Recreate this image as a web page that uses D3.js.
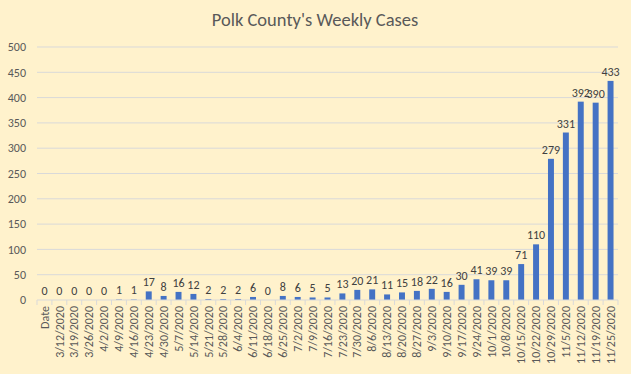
<!DOCTYPE html>
<html>
<head>
<meta charset="utf-8">
<script src="https://cdn.jsdelivr.net/npm/d3@7"></script>
<style>
  body { margin: 0; background: #FFF2CC; }
  svg { display: block; }
</style>
</head>
<body>
<svg id="chart"></svg>
<script>
// weekly cases, Polk County
const weeks = ["Date", "3/12/2020", "3/19/2020", "3/26/2020", "4/2/2020", "4/9/2020", "4/16/2020",
  "4/23/2020", "4/30/2020", "5/7/2020", "5/14/2020", "5/21/2020", "5/28/2020", "6/4/2020",
  "6/11/2020", "6/18/2020", "6/25/2020", "7/2/2020", "7/9/2020", "7/16/2020", "7/23/2020",
  "7/30/2020", "8/6/2020", "8/13/2020", "8/20/2020", "8/27/2020", "9/3/2020", "9/10/2020",
  "9/17/2020", "9/24/2020", "10/1/2020", "10/8/2020", "10/15/2020", "10/22/2020", "10/29/2020",
  "11/5/2020", "11/12/2020", "11/19/2020", "11/25/2020"];
const cases = [0, 0, 0, 0, 0, 1, 1,
  17, 8, 16, 12, 2, 2, 2,
  6, 0, 8, 6, 5, 5, 13,
  20, 21, 11, 15, 18, 22, 16,
  30, 41, 39, 39, 71, 110, 279,
  331, 392, 390, 433];
const yTicks = [0, 50, 100, 150, 200, 250, 300, 350, 400, 450, 500];

const width = 631, height = 374;
const margin = {top: 47, right: 13, bottom: 74, left: 37};

const svg = d3.select("#chart")
  .attr("width", width)
  .attr("height", height)
  .style("font-family", "Carlito, 'Open Sans', sans-serif");

svg.append("rect").attr("width", width).attr("height", height).attr("fill", "#FFF2CC");

const x = d3.scaleBand()
  .domain(weeks)
  .range([margin.left, width - margin.right])
  .paddingInner(0.6)
  .paddingOuter(0.3);

const y = d3.scaleLinear()
  .domain([0, 500])
  .range([height - margin.bottom, margin.top]);

// gridlines
svg.append("g")
  .selectAll("line")
  .data(yTicks.filter(d => d > 0))
  .join("line")
  .attr("x1", margin.left)
  .attr("x2", width - margin.right)
  .attr("y1", d => y(d))
  .attr("y2", d => y(d))
  .attr("stroke", "#D9D9D9")
  .attr("stroke-width", 1);

// y labels
svg.append("g")
  .selectAll("text")
  .data(yTicks)
  .join("text")
  .attr("x", 26)
  .attr("y", d => y(d))
  .attr("dy", "0.35em")
  .attr("text-anchor", "end")
  .attr("fill", "#595959")
  .style("font-size", "12px")
  .text(d => d);

// bars
svg.append("g")
  .selectAll("rect")
  .data(cases)
  .join("rect")
  .attr("x", (d, i) => x(weeks[i]))
  .attr("y", d => y(d))
  .attr("width", x.bandwidth())
  .attr("height", d => y(0) - y(d))
  .attr("fill", "#4472C4");

// x axis line + ticks between categories
const step = x.step();
const x0 = margin.left;
svg.append("line")
  .attr("x1", margin.left)
  .attr("x2", width - margin.right)
  .attr("y1", y(0))
  .attr("y2", y(0))
  .attr("stroke", "#D9D9D9");

svg.append("g")
  .selectAll("line")
  .data(d3.range(weeks.length + 1))
  .join("line")
  .attr("x1", i => x0 + i * (width - margin.right - margin.left) / weeks.length)
  .attr("x2", i => x0 + i * (width - margin.right - margin.left) / weeks.length)
  .attr("y1", y(0))
  .attr("y2", y(0) + 5)
  .attr("stroke", "#D9D9D9");

// category labels (rotated)
svg.append("g")
  .selectAll("text")
  .data(weeks)
  .join("text")
  .attr("transform", d => `translate(${x(d) + x.bandwidth() / 2},${y(0) + 6}) rotate(-90)`)
  .attr("dy", "0.35em")
  .attr("text-anchor", "end")
  .attr("fill", "#595959")
  .style("font-size", "12px")
  .text(d => d);

// data labels
svg.append("g")
  .selectAll("text")
  .data(cases)
  .join("text")
  .attr("x", (d, i) => x(weeks[i]) + x.bandwidth() / 2)
  .attr("y", d => y(d) - 5)
  .attr("text-anchor", "middle")
  .attr("fill", "#404040")
  .style("font-size", "12px")
  .text(d => d);

// title
svg.append("text")
  .attr("x", 315)
  .attr("y", 26)
  .attr("text-anchor", "middle")
  .attr("fill", "#595959")
  .style("font-size", "18.5px")
  .text("Polk County's Weekly Cases");
</script>
</body>
</html>
